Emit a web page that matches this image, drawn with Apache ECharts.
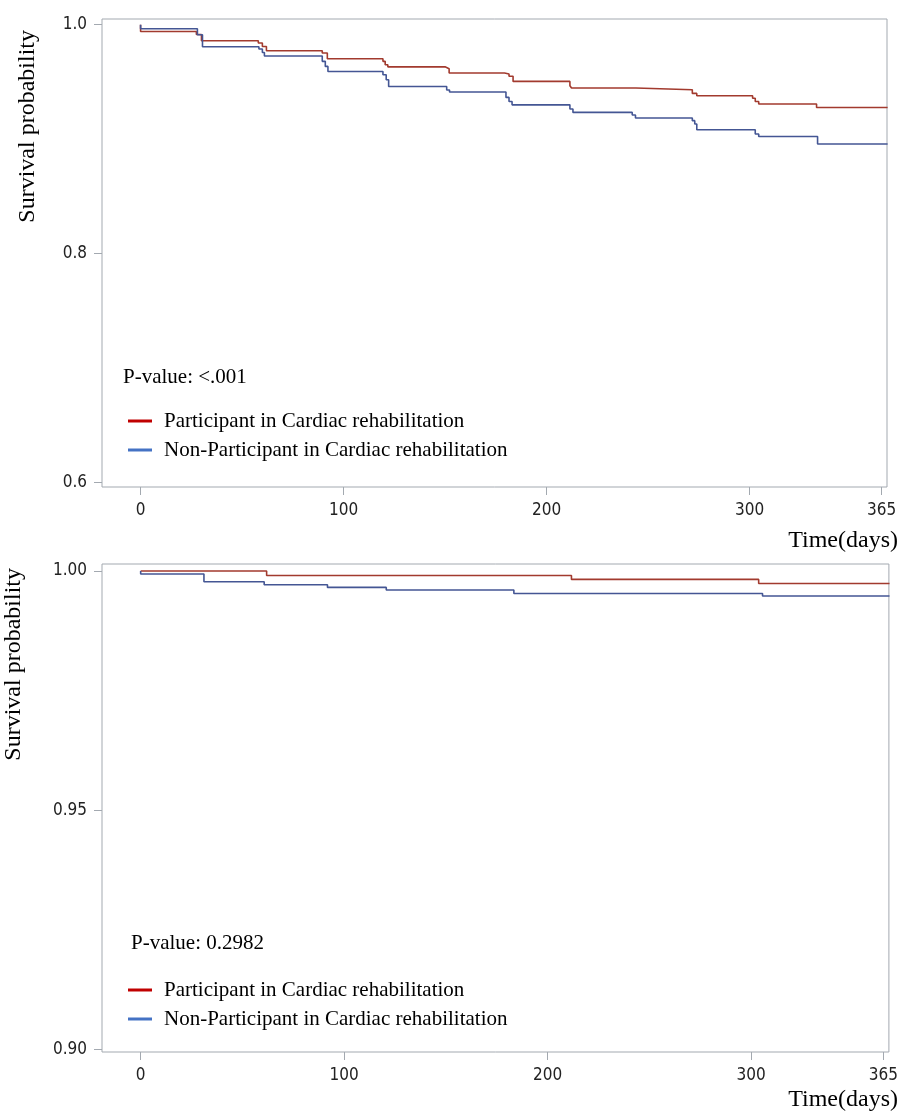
<!DOCTYPE html>
<html>
<head>
<meta charset="utf-8">
<script src="https://cdn.jsdelivr.net/npm/echarts@6/dist/echarts.min.js"></script>
<style>
  html, body { margin: 0; padding: 0; background: #fff; }
  #km { width: 901px; height: 1114px; }
</style>
</head>
<body>
<div id="km"></div>
<script>
// series names
const groupNames = ['Participant in Cardiac rehabilitation', 'Non-Participant in Cardiac rehabilitation']

// panel 1 (P-value: <.001) : [day, survival]
const topParticipant = [
  [0, 1.0], [0, 0.9941], [27.5, 0.9915], [30, 0.986], [58, 0.984], [60, 0.981], [62, 0.9773],
  [89.5, 0.9753], [92, 0.9703], [119.4, 0.968], [120.5, 0.965], [121.8, 0.9632],
  [150, 0.9616], [152, 0.9578], [179.3, 0.957], [181.5, 0.955], [183.5, 0.9505],
  [211.5, 0.9467], [212.3, 0.9447], [244, 0.9432], [271.8, 0.940], [274, 0.938],
  [301.5, 0.9358], [302.8, 0.933], [304.5, 0.9307], [333, 0.9277], [368, 0.9277]
]
const topNonParticipant = [
  [0, 1.0], [0, 0.9965], [28, 0.9913], [30.5, 0.9808], [58.3, 0.9788], [60, 0.9758], [61, 0.9727],
  [89.5, 0.968], [91, 0.9636], [92.3, 0.9592], [119.4, 0.9563], [121, 0.952], [122.2, 0.9461],
  [150.8, 0.943], [152.2, 0.9412], [180, 0.9365], [181.5, 0.933], [183, 0.930],
  [211.5, 0.9264], [213, 0.9234], [242.2, 0.9211], [243.8, 0.9185],
  [271.8, 0.9162], [273, 0.9133], [274, 0.9083], [302.8, 0.9045], [304.5, 0.9024],
  [333.5, 0.8958], [368, 0.8958]
]

// panel 2 (P-value: 0.2982)
const bottomParticipant = [
  [0, 1.0], [61.9, 0.99908], [211.7, 0.99825], [303.7, 0.99741], [368, 0.99741]
]
const bottomNonParticipant = [
  [0, 1.0], [0, 0.99937], [31.1, 0.99776], [60.7, 0.99714], [91.8, 0.99658],
  [120.7, 0.99603], [183.4, 0.99532], [305.6, 0.99477], [368, 0.99477]
]

// ticks
const xTicks = [0, 100, 200, 300, 365]
const topYTicks = [0.6, 0.8, 1.0]
const bottomYTicks = [0.90, 0.95, 1.00]

const pValues = ['P-value: <.001', 'P-value: 0.2982']

const lineColors = ['#A23A2E', '#445694']
const legendColors = ['#C00000', '#4472C4']
const frameColor = '#a3a9b0'
const sansNarrow = "'Liberation Sans Narrow', 'DejaVu Sans Condensed', sans-serif"
const serif = "'Liberation Serif', 'DejaVu Serif', serif"

const chart = echarts.init(document.getElementById('km'))

function xAxis(gridIndex) {
  return {
    type: 'value',
    gridIndex: gridIndex,
    min: -19,
    max: 367.7,
    axisLine: { show: false, onZero: false },
    splitLine: { show: false },
    axisTick: { show: true, length: 8, customValues: xTicks, lineStyle: { color: frameColor } },
    axisLabel: {
      customValues: xTicks, margin: 15, color: '#222',
      fontFamily: sansNarrow, fontSize: 17
    }
  }
}

function yAxis(gridIndex, min, max, ticks, digits) {
  return {
    type: 'value',
    gridIndex: gridIndex,
    min: min,
    max: max,
    axisLine: { show: false, onZero: false },
    splitLine: { show: false },
    axisTick: { show: true, length: 8, customValues: ticks, lineStyle: { color: frameColor } },
    axisLabel: {
      customValues: ticks, margin: 15, color: '#222',
      fontFamily: sansNarrow, fontSize: 17,
      formatter: v => v.toFixed(digits)
    }
  }
}

function legend(top) {
  return {
    orient: 'vertical',
    left: 123,
    top: top,
    icon: 'rect',
    itemWidth: 24,
    itemHeight: 3,
    itemGap: 8,
    selectedMode: false,
    textStyle: { fontFamily: serif, fontSize: 21, lineHeight: 21, color: '#000', padding: [0, 0, 0, 7] },
    data: groupNames.map((n, i) => ({ name: n, itemStyle: { color: legendColors[i] } }))
  }
}

function kmSeries(name, data, color, idx) {
  return {
    name: name,
    type: 'line',
    step: 'end',
    xAxisIndex: idx,
    yAxisIndex: idx,
    showSymbol: false,
    data: data,
    lineStyle: { color: color, width: 1.6 },
    itemStyle: { color: color }
  }
}

function label(text, x, y, size) {
  return {
    type: 'text',
    x: x,
    y: y,
    style: { text: text, fontFamily: serif, fontSize: size, fill: '#000', textVerticalAlign: 'middle' }
  }
}

function sideText(text, x, y, rotated) {
  return {
    type: 'text',
    x: x,
    y: y,
    rotation: rotated ? Math.PI / 2 : 0,
    style: { text: text, fontFamily: serif, fontSize: 24, fill: '#000', textAlign: 'right', textVerticalAlign: 'middle' }
  }
}

let option = {
  animation: false,
  backgroundColor: '#fff',
  grid: [
    { left: 102, top: 19, width: 785, height: 468, show: true, borderColor: frameColor, borderWidth: 1 },
    { left: 102, top: 564, width: 788, height: 488, show: true, borderColor: frameColor, borderWidth: 1 }
  ],
  xAxis: [xAxis(0), xAxis(1)],
  yAxis: [
    yAxis(0, 0.5962, 1.005, topYTicks, 1),
    yAxis(1, 0.89948, 1.00147, bottomYTicks, 2)
  ],
  legend: [legend(405.5), legend(974.5)],
  series: [
    kmSeries(groupNames[0], topParticipant, lineColors[0], 0),
    kmSeries(groupNames[1], topNonParticipant, lineColors[1], 0),
    kmSeries(groupNames[0], bottomParticipant, lineColors[0], 1),
    kmSeries(groupNames[1], bottomNonParticipant, lineColors[1], 1)
  ],
  graphic: [
    label(pValues[0], 123, 377, 21),
    label(pValues[1], 131, 943, 21),
    sideText('Survival probability', 28, 30, true),
    sideText('Survival probability', 14, 568, true),
    sideText('Time(days)', 898, 541, false),
    sideText('Time(days)', 898, 1100, false)
  ]
}

chart.setOption(option)
</script>
</body>
</html>
